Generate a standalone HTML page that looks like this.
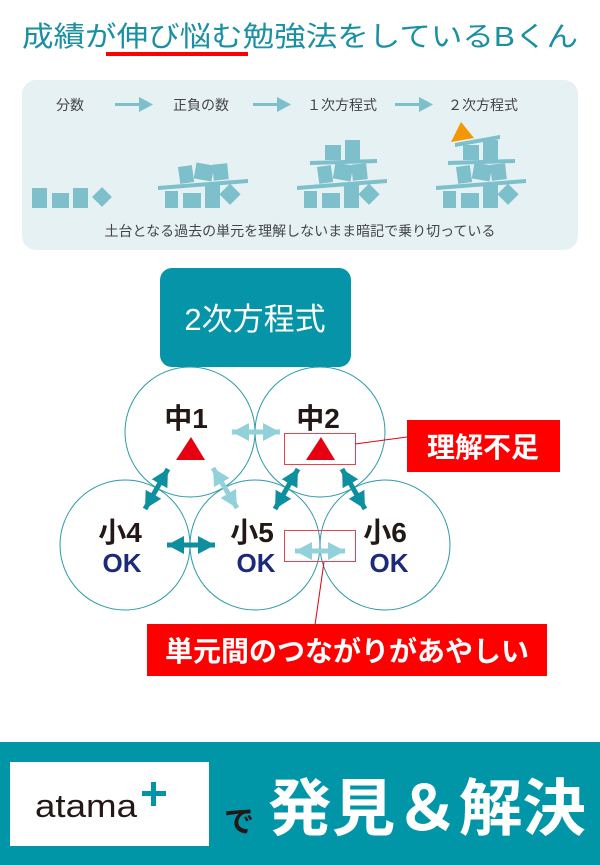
<!DOCTYPE html>
<html><head><meta charset="utf-8"><style>
html,body{margin:0;padding:0;background:#fff;}
body{width:600px;height:865px;overflow:hidden;}
svg{display:block;}
text{font-family:"Liberation Sans","Noto Sans CJK JP",sans-serif;}
</style></head><body>
<svg width="600" height="865" viewBox="0 0 600 865" xmlns="http://www.w3.org/2000/svg">
<defs>
<marker id="hd" markerWidth="3.4" markerHeight="3.6" refX="3.4" refY="1.8" orient="auto-start-reverse" markerUnits="strokeWidth"><path d="M0,0 L3.4,1.8 L0,3.6 z" fill="#0e8fa0"/></marker>
<marker id="hl" markerWidth="3.4" markerHeight="3.6" refX="3.4" refY="1.8" orient="auto-start-reverse" markerUnits="strokeWidth"><path d="M0,0 L3.4,1.8 L0,3.6 z" fill="#92d0da"/></marker>
</defs>
<text x="300" y="46" font-size="28" fill="#1a90a2" text-anchor="middle" textLength="556" lengthAdjust="spacingAndGlyphs">成績が伸び悩む勉強法をしているBくん</text>
<rect x="106" y="52" width="142" height="4" fill="#ff0000"/>
<rect x="22" y="80" width="556" height="170" rx="14" fill="#e6f1f4"/>
<g font-size="14" fill="#444">
<text x="56" y="110">分数</text>
<text x="173" y="110">正負の数</text>
<text x="307" y="110">１次方程式</text>
<text x="448" y="110">２次方程式</text>
</g>
<g fill="#7dbfca">
<rect x="115" y="103" width="26" height="3"/><path d="M139,97 L153,104.5 L139,112z"/>
<rect x="253" y="103" width="26" height="3"/><path d="M277,97 L291,104.5 L277,112z"/>
<rect x="395" y="103" width="26" height="3"/><path d="M419,97 L433,104.5 L419,112z"/>
<rect x="32" y="188" width="15" height="20"/><rect x="52" y="193" width="17" height="15"/><rect x="73" y="188" width="15" height="20"/>
<rect x="95" y="190" width="14" height="14" transform="rotate(45 102 197)"/>
</g>
<g id="s2" fill="#7dbfca">
<rect x="165" y="191" width="13" height="17"/><rect x="183" y="193" width="18" height="15"/><rect x="205" y="185" width="15" height="23"/>
<rect x="222" y="187" width="15" height="15" transform="rotate(45 230 195)"/>
<path d="M158,186 L248,179 L248,183 L158,190z"/>
<rect x="179" y="166" width="14" height="17" transform="rotate(-8 186 174)"/>
<rect x="195" y="164" width="18" height="16" transform="rotate(10 204 172)"/>
<rect x="213" y="164" width="15" height="16" transform="rotate(-6 220 172)"/>
</g>
<use href="#s2" x="139" y="0"/>
<g fill="#7dbfca">
<path d="M310,161 L377,159 L377,163 L310,165z"/>
<rect x="325" y="145" width="16" height="15"/><rect x="345" y="140" width="15" height="20"/>
</g>
<use href="#s2" x="278" y="0"/>
<g fill="#7dbfca">
<path d="M448,161 L515,159 L515,163 L448,165z"/>
<rect x="463" y="145" width="16" height="15"/><rect x="483" y="140" width="15" height="20"/>
<path d="M455,143 L500,135 L500,139 L455,147z"/>
</g>
<path d="M451,142 L461,122 L474,138z" fill="#f39800"/>
<text x="300" y="236" font-size="14" fill="#444" text-anchor="middle">土台となる過去の単元を理解しないまま暗記で乗り切っている</text>
<rect x="160" y="268" width="191" height="99" rx="12" fill="#0695a8"/>
<text x="255" y="330" font-size="31" fill="#fff" text-anchor="middle">2次方程式</text>
<g fill="none" stroke="#2a9aa8" stroke-width="1">
<circle cx="190" cy="432" r="65"/><circle cx="320" cy="432" r="65"/>
<circle cx="125" cy="545" r="65"/><circle cx="255" cy="545" r="65"/><circle cx="385" cy="545" r="65"/>
</g>
<g stroke-width="5">
<line x1="232" y1="432" x2="280" y2="432" stroke="#92d0da" marker-start="url(#hl)" marker-end="url(#hl)"/>
<line x1="213" y1="468" x2="237" y2="508" stroke="#92d0da" marker-start="url(#hl)" marker-end="url(#hl)"/>
<line x1="295" y1="551" x2="345" y2="551" stroke="#92d0da" marker-start="url(#hl)" marker-end="url(#hl)"/>
<line x1="168" y1="469" x2="145" y2="509" stroke="#0e8fa0" marker-start="url(#hd)" marker-end="url(#hd)"/>
<line x1="298" y1="469" x2="275" y2="509" stroke="#0e8fa0" marker-start="url(#hd)" marker-end="url(#hd)"/>
<line x1="342" y1="469" x2="365" y2="509" stroke="#0e8fa0" marker-start="url(#hd)" marker-end="url(#hd)"/>
<line x1="167" y1="545" x2="215" y2="545" stroke="#0e8fa0" marker-start="url(#hd)" marker-end="url(#hd)"/>
</g>
<g font-size="28" font-weight="bold" fill="#231815" text-anchor="middle">
<text x="186" y="428">中1</text><text x="318" y="428">中2</text>
<text x="120" y="542">小4</text><text x="252" y="542">小5</text><text x="385" y="542">小6</text>
</g>
<g font-size="26" font-weight="bold" fill="#1d2a7a" text-anchor="middle">
<text x="122" y="572">OK</text><text x="256" y="572">OK</text><text x="389" y="572">OK</text>
</g>
<path d="M176,460 L191,437 L205,460z" fill="#e60012"/>
<path d="M306,460 L321,437 L335,460z" fill="#e60012"/>
<rect x="284.5" y="433.5" width="71" height="31" fill="none" stroke="#e8414f" stroke-width="1"/>
<rect x="284.5" y="530.5" width="71" height="31" fill="none" stroke="#e8414f" stroke-width="1"/>
<line x1="355" y1="444" x2="407" y2="437" stroke="#e60012" stroke-width="1"/>
<line x1="324" y1="562" x2="315" y2="625" stroke="#e60012" stroke-width="1"/>
<rect x="407" y="420" width="153" height="52" fill="#ff0000"/>
<text x="483" y="457" font-size="28" font-weight="bold" fill="#fff" text-anchor="middle">理解不足</text>
<rect x="147" y="624" width="400" height="52" fill="#ff0000"/>
<text x="347" y="661" font-size="28" font-weight="bold" fill="#fff" text-anchor="middle">単元間のつながりがあやしい</text>
<rect x="0" y="742" width="600" height="123" fill="#0096a8"/>
<rect x="10" y="762" width="199" height="84" fill="#fff"/>
<text x="35" y="817" font-size="32" fill="#231815" textLength="102" lengthAdjust="spacingAndGlyphs">atama</text>
<rect x="151" y="782" width="5" height="24" fill="#0096a8"/>
<rect x="142" y="791" width="24" height="5" fill="#0096a8"/>
<text x="224" y="832" font-size="30" font-weight="bold" fill="#231815">で</text>
<text x="427" y="830" font-size="62" font-weight="bold" fill="#fff" text-anchor="middle" textLength="318" lengthAdjust="spacingAndGlyphs">発見＆解決</text>
</svg>
</body></html>
